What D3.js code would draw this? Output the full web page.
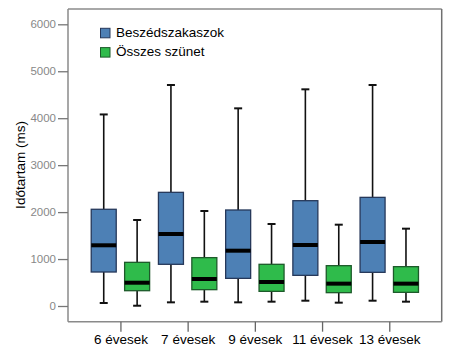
<!DOCTYPE html>
<html><head><meta charset="utf-8">
<script src="https://cdn.jsdelivr.net/npm/d3@7"></script>
<style>
body{margin:0;background:#fff;}
svg{display:block;font-family:"Liberation Sans",Arial,sans-serif;}
</style></head>
<body><svg id="c" width="450" height="361"></svg>
<script>
const categories = ["6 évesek","7 évesek","9 évesek","11 évesek","13 évesek"];
const seriesNames = ["Beszédszakaszok","Összes szünet"];
// [whiskerLow, q1, median, q3, whiskerHigh]
const beszed = [
  [64, 724, 1293, 2060, 4080],
  [78, 888, 1533, 2421, 4707],
  [78, 589, 1178, 2045, 4210],
  [113, 653, 1299, 2243, 4615],
  [113, 717, 1363, 2314, 4707]
];
const szunet = [
  [6, 326, 496, 930, 1832],
  [92, 348, 575, 1030, 2023],
  [92, 312, 511, 888, 1746],
  [71, 284, 476, 859, 1732],
  [92, 291, 476, 838, 1647]
];
const yTicks = [0,1000,2000,3000,4000,5000,6000];

const fills = ["#4d80b5","#2fbb4b"];
const strokes = ["#26385a","#1d5a2a"];

const svg = d3.select("#c");
const L=68, R=441.7, T=9, B=321.7;
const y = d3.scaleLinear().domain([0,6000]).range([306,24.3]);
const x = d3.scalePoint().domain(categories).range([L,R]).padding(0.78);

// frame
svg.append("line").attr("x1",L).attr("x2",R).attr("y1",T).attr("y2",T).attr("stroke","#a8a8a8").attr("stroke-width",2);
svg.append("line").attr("x1",R).attr("x2",R).attr("y1",T).attr("y2",B).attr("stroke","#707070").attr("stroke-width",1.5);
svg.append("line").attr("x1",L).attr("x2",R).attr("y1",B).attr("y2",B).attr("stroke","#8a8a8a").attr("stroke-width",1.5);
svg.append("line").attr("x1",L).attr("x2",L).attr("y1",T).attr("y2",B).attr("stroke","#8a8a8a").attr("stroke-width",1.5);

// y axis
const ya = svg.append("g").attr("transform",`translate(${L},0)`)
  .call(d3.axisLeft(y).tickValues(yTicks).tickSize(10).tickPadding(2).tickFormat(d3.format("d")));
ya.select(".domain").remove();
ya.selectAll(".tick line").attr("stroke","#777").attr("stroke-width",1.3);
ya.selectAll(".tick text").attr("fill","#888").style("font-size","11.5px").style("font-family","Liberation Sans, Arial, sans-serif");

// x axis
const xa = svg.append("g").attr("transform",`translate(0,${B})`)
  .call(d3.axisBottom(x).tickSize(10).tickPadding(3));
xa.select(".domain").remove();
xa.selectAll(".tick line").attr("stroke","#666").attr("stroke-width",1.3);
xa.selectAll(".tick text").attr("fill","#000").style("font-size","13.5px").style("font-family","Liberation Sans, Arial, sans-serif");

// y label
svg.append("text").attr("transform","translate(25,165) rotate(-90)").attr("text-anchor","middle")
  .style("font-size","13.5px").attr("fill","#000").text("Időtartam (ms)");

const off = 16.7, bw = 25, cap = 8;
[beszed, szunet].forEach((series, si) => {
  const g = svg.append("g");
  series.forEach((d, i) => {
    const cx = x(categories[i]) + (si === 0 ? -off : off);
    const [lo,q1,med,q3,hi] = d;
    g.append("line").attr("x1",cx).attr("x2",cx).attr("y1",y(hi)).attr("y2",y(q3)).attr("stroke","#111").attr("stroke-width",1.6);
    g.append("line").attr("x1",cx).attr("x2",cx).attr("y1",y(q1)).attr("y2",y(lo)).attr("stroke","#111").attr("stroke-width",1.6);
    g.append("line").attr("x1",cx-cap/2).attr("x2",cx+cap/2).attr("y1",y(hi)).attr("y2",y(hi)).attr("stroke","#111").attr("stroke-width",2);
    g.append("line").attr("x1",cx-cap/2).attr("x2",cx+cap/2).attr("y1",y(lo)).attr("y2",y(lo)).attr("stroke","#111").attr("stroke-width",2);
    g.append("rect").attr("x",cx-bw/2).attr("width",bw).attr("y",y(q3)).attr("height",y(q1)-y(q3))
      .attr("fill",fills[si]).attr("stroke",strokes[si]).attr("stroke-width",1.3);
    g.append("line").attr("x1",cx-bw/2).attr("x2",cx+bw/2).attr("y1",y(med)).attr("y2",y(med)).attr("stroke","#000").attr("stroke-width",4);
  });
});

// legend
seriesNames.forEach((n, i) => {
  const ly = 28.3 + i*19.3;
  svg.append("rect").attr("x",100.5).attr("y",ly).attr("width",9.5).attr("height",9.5)
    .attr("fill",fills[i]).attr("stroke",strokes[i]).attr("stroke-width",1);
  svg.append("text").attr("x",116).attr("y",ly+8.7).style("font-size","13.5px").attr("fill","#000").text(n);
});
</script></body></html>
